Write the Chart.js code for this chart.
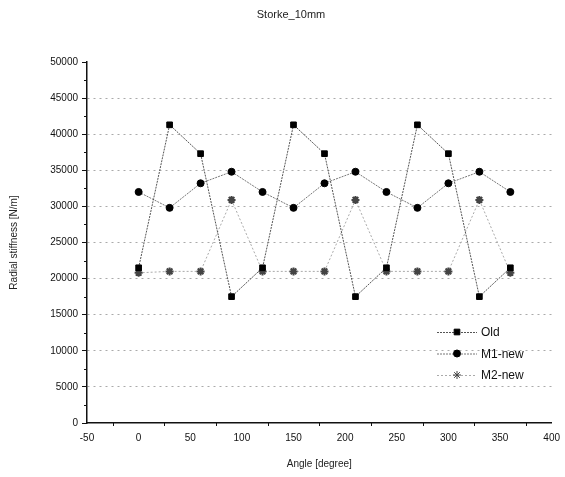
<!DOCTYPE html>
<html><head><meta charset="utf-8">
<script src="https://cdn.jsdelivr.net/npm/chart.js@4/dist/chart.umd.min.js"></script>
<style>html,body{margin:0;padding:0;background:#fff}canvas{display:block}</style>
</head><body>
<canvas id="c" width="565" height="477"></canvas>
<script>
const chartTitle = "Storke_10mm";
const angles = [0, 30, 60, 90, 120, 150, 180, 210, 240, 270, 300, 330, 360];
const oldValues = [21500, 41300, 37300, 17500, 21500, 41300, 37300, 17500, 21500, 41300, 37300, 17500, 21500];
const m1Values = [32000, 29800, 33200, 34800, 32000, 29800, 33200, 34800, 32000, 29800, 33200, 34800, 32000];
const m2Values = [20800, 21000, 21000, 30900, 21000, 21000, 21000, 30900, 21000, 21000, 21000, 30900, 20800];
const seriesNames = ["Old", "M1-new", "M2-new"];
const xTitle = "Angle [degree]";
const yTitle = "Radial stiffness [N/m]";

const FONT = "'Liberation Sans', Arial, sans-serif";
function pts(vals){ return angles.map((a,i)=>({x:a,y:vals[i]})); }

const titlePlugin = {
  id:'titleP',
  afterDraw(chart){
    const ctx = chart.ctx;
    ctx.save();
    ctx.fillStyle = '#222';
    ctx.font = '11px ' + FONT;
    ctx.textAlign = 'center';
    ctx.textBaseline = 'middle';
    ctx.fillText(chartTitle, 291, 15);
    ctx.restore();
  }
};

const minorTicks = {
  id:'minorTicks',
  afterDraw(chart){
    const ctx = chart.ctx, xs = chart.scales.x, ys = chart.scales.y;
    ctx.save();
    ctx.strokeStyle = '#111';
    ctx.lineWidth = 1;
    ctx.beginPath();
    for (let v = 2500; v < 50000; v += 5000) {
      const y = Math.round(ys.getPixelForValue(v)) + 0.5;
      ctx.moveTo(xs.left - 3, y); ctx.lineTo(xs.left, y);
    }
    for (let v = -25; v < 400; v += 50) {
      const x = Math.round(xs.getPixelForValue(v)) + 0.5;
      ctx.moveTo(x, ys.bottom); ctx.lineTo(x, ys.bottom + 3);
    }
    ctx.stroke();
    ctx.restore();
  }
};

const legendPlugin = {
  id:'customLegend',
  afterDraw(chart){
    const ctx = chart.ctx;
    const x0 = 437, y0 = 332, dy = 21.5;
    ctx.save();
    chart.data.datasets.forEach((ds, i) => {
      const y = y0 + i*dy;
      ctx.strokeStyle = ds.borderColor;
      ctx.lineWidth = 1;
      ctx.setLineDash(ds.borderDash || []);
      ctx.beginPath(); ctx.moveTo(x0, y+0.5); ctx.lineTo(x0+40, y+0.5); ctx.stroke();
      ctx.setLineDash([]);
      ctx.fillStyle = ds.pointBackgroundColor;
      ctx.strokeStyle = ds.pointBorderColor;
      Chart.helpers.drawPoint(ctx, {pointStyle: ds.pointStyle, radius: ds.pointRadius, borderWidth: ds.pointBorderWidth || 1, rotation:0}, x0+20, y);
      ctx.fillStyle = '#111';
      ctx.font = '12px ' + FONT;
      ctx.textAlign = 'left';
      ctx.textBaseline = 'middle';
      ctx.fillText(ds.label, x0+44, y+1);
    });
    ctx.restore();
  }
};

new Chart(document.getElementById('c'), {
  type: 'scatter',
  data: {
    datasets: [
      { label: seriesNames[0], data: pts(oldValues), showLine: true,
        borderColor: '#555', borderWidth: 1, borderDash: [2,1],
        pointStyle: 'rect', pointRadius: 4, pointBackgroundColor: '#000', pointBorderColor: '#000', pointHoverRadius: 4 },
      { label: seriesNames[1], data: pts(m1Values), showLine: true,
        borderColor: '#777', borderWidth: 1, borderDash: [2,1],
        pointStyle: 'circle', pointRadius: 3.5, pointBackgroundColor: '#000', pointBorderColor: '#000', pointHoverRadius: 3.5 },
      { label: seriesNames[2], data: pts(m2Values), showLine: true,
        borderColor: '#aaa', borderWidth: 1, borderDash: [2,2],
        pointStyle: 'star', pointRadius: 4, pointBackgroundColor: '#555', pointBorderColor: '#444', pointBorderWidth: 2, pointHoverRadius: 4 }
    ]
  },
  options: {
    responsive: false,
    animation: false,
    devicePixelRatio: 1,
    layout: { padding: { top: 62, right: 13, left: 4, bottom: 3 } },
    plugins: { legend: { display: false }, title: { display: false }, tooltip: { enabled: false } },
    scales: {
      x: {
        type: 'linear', min: -50, max: 400,
        ticks: { stepSize: 50, color: '#111', font: { size: 10, family: FONT }, padding: 5, maxRotation: 0,
                 callback: (v) => String(v) },
        grid: { display: false, drawTicks: true, tickLength: 4, tickColor: '#111' },
        border: { display: true, color: '#111', width: 1.5 },
        title: { display: true, text: xTitle, color: '#222', font: { size: 10, family: FONT }, padding: { top: 8 } },
        afterFit(s){ s.height = 51; }
      },
      y: {
        min: 0, max: 50000,
        ticks: { stepSize: 5000, color: '#111', font: { size: 10, family: FONT }, padding: 4,
                 callback: (v) => String(v) },
        grid: {
          drawTicks: true, tickLength: 5, tickColor: '#111',
          color: (c) => (c.tick && (c.tick.value === 0 || c.tick.value === 50000)) ? 'rgba(0,0,0,0)' : '#aaa',
          lineWidth: 1
        },
        border: { display: true, color: '#111', width: 1.5, dash: [2,4] },
        title: { display: true, text: yTitle, color: '#222', font: { size: 10, family: FONT }, padding: { bottom: 14 } },
        afterFit(s){ s.width = 83; }
      }
    }
  },
  plugins: [titlePlugin, minorTicks, legendPlugin]
});
</script>
</body></html>
